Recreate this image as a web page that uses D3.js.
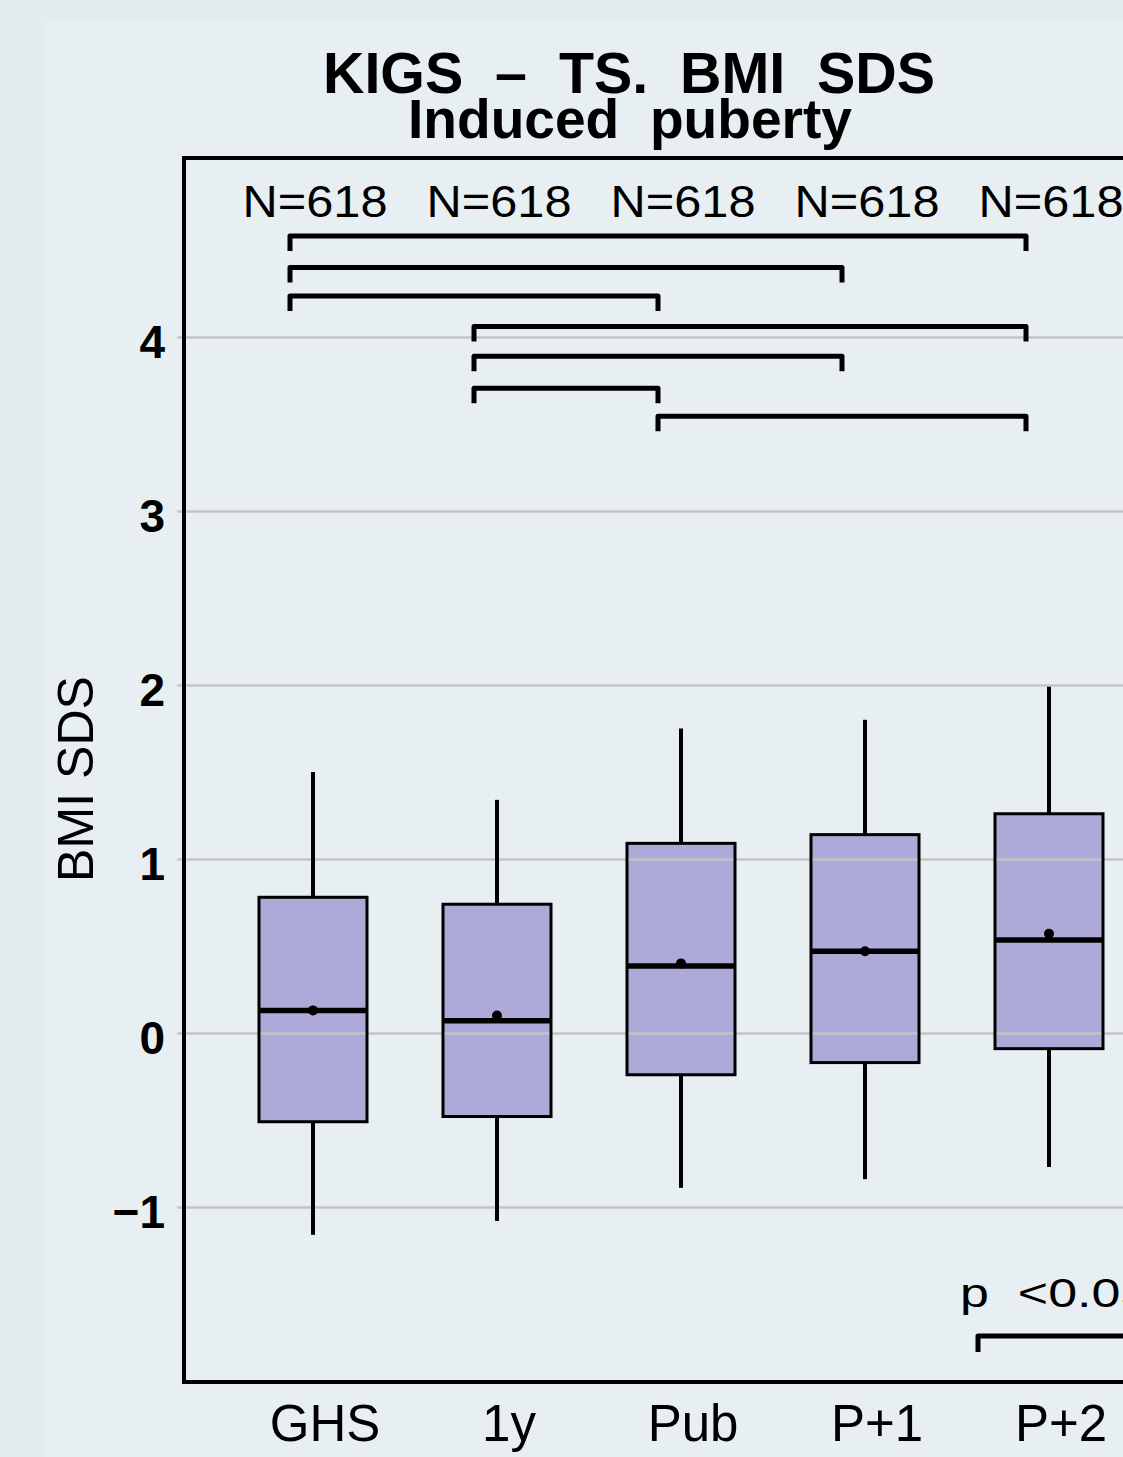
<!DOCTYPE html>
<html>
<head>
<meta charset="utf-8">
<script src="https://cdn.jsdelivr.net/npm/d3@7"></script>
<style>
  html, body { margin: 0; padding: 0; background: #e3ebee; }
  svg { display: block; }
  text { white-space: pre; }
</style>
</head>
<body>
<svg id="chart" width="1123" height="1457"></svg>
<script>
// Visits and their box-plot statistics (BMI SDS)
const categories  = ["GHS", "1y", "Pub", "P+1", "P+2"];
const nLabels     = ["N=618", "N=618", "N=618", "N=618", "N=618"];
const whiskerLow  = [-1.16, -1.08, -0.89, -0.84, -0.77];
const q1          = [-0.51, -0.48, -0.24, -0.17, -0.09];
const median      = [0.13, 0.07, 0.385, 0.47, 0.535];
const mean        = [0.13, 0.10, 0.40, 0.47, 0.57];
const q3          = [0.78, 0.74, 1.09, 1.14, 1.26];
const whiskerHigh = [1.50, 1.34, 1.75, 1.80, 1.99];

const yTicks = [-1, 0, 1, 2, 3, 4];

// Pairwise comparisons significant at p < 0.05, with the bracket level (in SDS units)
const compFrom  = ["GHS", "GHS", "GHS", "1y", "1y", "1y", "Pub"];
const compTo    = ["P+2", "P+1", "Pub", "P+2", "P+1", "Pub", "P+2"];
const compLevel = [4.58, 4.40, 4.235, 4.06, 3.89, 3.705, 3.545];

const titleLines = ["KIGS  \u2013  TS.  BMI  SDS", "Induced  puberty"];
const yTitle = "BMI SDS";
const legendText = "p  <0.05";

const boxes = categories.map((c, i) => ({
  cat: c, lo: whiskerLow[i], q1: q1[i], med: median[i], mean: mean[i], q3: q3[i], hi: whiskerHigh[i], n: nLabels[i]
}));
const comparisons = compFrom.map((f, i) => ({ from: f, to: compTo[i], level: compLevel[i] }));

// Layout
const frame = { left: 184, top: 158, bottom: 1382, right: 1300 };
const boxHalf = 54;
const bracketShift = -23;
const font = "'Liberation Sans', Arial, Helvetica, sans-serif";

const svg = d3.select("#chart");

// Background panel
svg.append("rect").attr("x", 0).attr("y", 0).attr("width", 1123).attr("height", 1457).attr("fill", "#e3ebee");
svg.append("rect").attr("x", 43).attr("y", 22).attr("width", 1123 - 43).attr("height", 1457 - 22).attr("fill", "#e8eff2");

const x = d3.scalePoint().domain(categories).range([313, 1049]);
const y = d3.scaleLinear().domain([-1, 4]).range([1207, 337]);

// Title
svg.append("text")
  .attr("x", 629).attr("y", 93)
  .attr("text-anchor", "middle")
  .attr("font-family", font).attr("font-weight", "bold").attr("font-size", 58)
  .attr("textLength", 612).attr("lengthAdjust", "spacingAndGlyphs")
  .attr("fill", "#000").text(titleLines[0]);
svg.append("text")
  .attr("x", 630).attr("y", 138)
  .attr("text-anchor", "middle")
  .attr("font-family", font).attr("font-weight", "bold").attr("font-size", 56)
  .attr("textLength", 444).attr("lengthAdjust", "spacingAndGlyphs")
  .attr("fill", "#000").text(titleLines[1]);

// Box fills (below the grid lines)
svg.append("g").selectAll("rect").data(boxes).join("rect")
  .attr("x", d => x(d.cat) - boxHalf)
  .attr("width", boxHalf * 2)
  .attr("y", d => y(d.q3))
  .attr("height", d => y(d.q1) - y(d.q3))
  .attr("fill", "#adaad9");

// Y axis with grid lines
const yAxis = d3.axisLeft(y).tickValues(yTicks).tickSize(7).tickPadding(12)
  .tickFormat(d => d < 0 ? "\u2212" + Math.abs(d) : d);
const gy = svg.append("g").attr("transform", `translate(${frame.left},0)`).call(yAxis);
gy.select(".domain").remove();
gy.selectAll(".tick line").attr("stroke", "#c4c4c4").attr("stroke-width", 2.5);
gy.selectAll(".tick text")
  .attr("font-family", font).attr("font-weight", "bold").attr("font-size", 46)
  .attr("fill", "#000").attr("dy", "0.45em");
gy.selectAll(".tick").append("line")
  .attr("x1", 0).attr("x2", 1123 - frame.left)
  .attr("stroke", "#c4c4c4").attr("stroke-width", 2.5);

// Whiskers
const gb = svg.append("g");
gb.selectAll("line.hi").data(boxes).join("line").attr("class", "hi")
  .attr("x1", d => x(d.cat)).attr("x2", d => x(d.cat))
  .attr("y1", d => y(d.q3)).attr("y2", d => y(d.hi))
  .attr("stroke", "#000").attr("stroke-width", 4);
gb.selectAll("line.lo").data(boxes).join("line").attr("class", "lo")
  .attr("x1", d => x(d.cat)).attr("x2", d => x(d.cat))
  .attr("y1", d => y(d.q1)).attr("y2", d => y(d.lo))
  .attr("stroke", "#000").attr("stroke-width", 4);

// Box outlines
gb.selectAll("rect").data(boxes).join("rect")
  .attr("x", d => x(d.cat) - boxHalf)
  .attr("width", boxHalf * 2)
  .attr("y", d => y(d.q3))
  .attr("height", d => y(d.q1) - y(d.q3))
  .attr("fill", "none").attr("stroke", "#000").attr("stroke-width", 3);

// Medians
gb.selectAll("line.med").data(boxes).join("line").attr("class", "med")
  .attr("x1", d => x(d.cat) - boxHalf).attr("x2", d => x(d.cat) + boxHalf)
  .attr("y1", d => y(d.med)).attr("y2", d => y(d.med))
  .attr("stroke", "#000").attr("stroke-width", 5.5);

// Means
gb.selectAll("circle").data(boxes).join("circle")
  .attr("cx", d => x(d.cat)).attr("cy", d => y(d.mean)).attr("r", 5)
  .attr("fill", "#000");

// Plot frame
svg.append("rect")
  .attr("x", frame.left).attr("y", frame.top)
  .attr("width", frame.right - frame.left).attr("height", frame.bottom - frame.top)
  .attr("fill", "none").attr("stroke", "#000").attr("stroke-width", 4);

// Sample sizes
svg.append("g").selectAll("text").data(boxes).join("text")
  .attr("x", d => x(d.cat) + 2).attr("y", 217)
  .attr("text-anchor", "middle")
  .attr("font-family", font).attr("font-size", 44)
  .attr("textLength", 145).attr("lengthAdjust", "spacingAndGlyphs")
  .attr("fill", "#000").text(d => d.n);

// Significance brackets
const bracketDrop = 15;
svg.append("g").selectAll("path").data(comparisons).join("path")
  .attr("d", d => {
    const x1 = x(d.from) + bracketShift, x2 = x(d.to) + bracketShift, yy = y(d.level);
    return `M${x1},${yy + bracketDrop}V${yy}H${x2}V${yy + bracketDrop}`;
  })
  .attr("fill", "none").attr("stroke", "#000").attr("stroke-width", 5)
  .attr("stroke-linejoin", "round");

// Legend
svg.append("text")
  .attr("transform", "translate(960,1307) scale(1.3,1)")
  .attr("font-family", font).attr("font-size", 40)
  .attr("fill", "#000").text(legendText);
svg.append("path")
  .attr("d", `M978,1352V1336H1180V1352`)
  .attr("fill", "none").attr("stroke", "#000").attr("stroke-width", 5)
  .attr("stroke-linejoin", "round");

// X category labels
svg.append("g").selectAll("text").data(categories).join("text")
  .attr("x", d => x(d) + 12).attr("y", 1441)
  .attr("text-anchor", "middle")
  .attr("font-family", font).attr("font-size", 51)
  .attr("fill", "#000").text(d => d);

// Y axis title
svg.append("text")
  .attr("transform", "translate(93,779) rotate(-90)")
  .attr("text-anchor", "middle")
  .attr("font-family", font).attr("font-size", 50)
  .attr("textLength", 206).attr("lengthAdjust", "spacingAndGlyphs")
  .attr("fill", "#000").text(yTitle);
</script>
</body>
</html>
